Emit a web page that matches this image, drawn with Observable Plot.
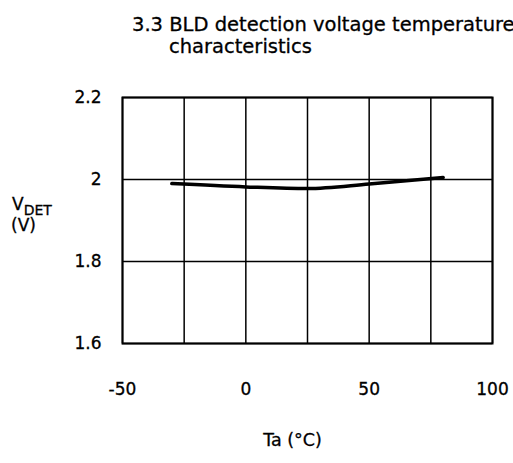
<!DOCTYPE html>
<html><head><meta charset="utf-8">
<script src="https://cdn.jsdelivr.net/npm/d3@7"></script>
<script src="https://cdn.jsdelivr.net/npm/@observablehq/plot@0.6"></script>
<style>
body{margin:0;background:#fff;width:513px;height:463px;overflow:hidden;font-family:"DejaVu Sans",sans-serif;}
#title{position:relative;height:70px;white-space:nowrap;overflow:hidden;font-size:19.5px;line-height:23px;color:#000;-webkit-text-stroke:0.3px #000;}
#title div{position:absolute;}
svg text{stroke:#000;stroke-width:0.3px;}
</style></head><body>
<div id="title"><div style="left:132px;top:13px">3.3 BLD detection voltage temperature</div><div style="left:169px;top:35px">characteristics</div></div>
<div id="chart"></div>
<script>
const temps = [-30, 0, 25, 50, 80];
const vdet = [1.990, 1.982, 1.978, 1.989, 2.005];
const xTicks = [-50, 0, 50, 100];
const xGrid = [-50, -25, 0, 25, 50, 75, 100];
const yTicks = [1.6, 1.8, 2.0, 2.2];
const data = temps.map((t, i) => ({t, v: vdet[i]}));

const plot = Plot.plot({
  width: 513, height: 393,
  marginLeft: 122, marginRight: 21, marginTop: 27, marginBottom: 120,
  style: {fontFamily: "DejaVu Sans, sans-serif", fontSize: "17px", color: "#000"},
  x: {domain: [-50, 100]},
  y: {domain: [1.6, 2.2]},
  marks: [
    Plot.gridX(xGrid, {stroke: "#000", strokeOpacity: 1, strokeWidth: 1.5}),
    Plot.gridY(yTicks, {stroke: "#000", strokeOpacity: 1, strokeWidth: 1.5}),
    Plot.frame({stroke: "#000", strokeWidth: 2}),
    Plot.axisX(xTicks, {tickSize: 0, tickPadding: 39, label: null, tickFormat: d => String(d), fontSize: 17}),
    Plot.axisY(yTicks, {tickSize: 0, tickPadding: 21, label: null, tickFormat: d => String(+d.toFixed(1)), fontSize: 17}),
    Plot.line(data, {x: "t", y: "v", stroke: "#000", strokeWidth: 3.5, curve: "monotone-x"}),
    Plot.text(["Ta (°C)"], {frameAnchor: "bottom", dx: -15, dy: 102, fontSize: 17.5})
  ]
});
document.getElementById("chart").appendChild(plot);
const svg = d3.select(plot);
const lab = svg.append("text").attr("x", 12).attr("y", 140).attr("text-anchor", "start").attr("font-size", 17).attr("fill", "#000");
lab.append("tspan").text("V");
lab.append("tspan").attr("font-size", 14).attr("dy", 5).text("DET");
svg.append("text").attr("x", 11).attr("y", 161).attr("text-anchor", "start").attr("font-size", 17).attr("fill", "#000").text("(V)");
</script>
</body></html>
